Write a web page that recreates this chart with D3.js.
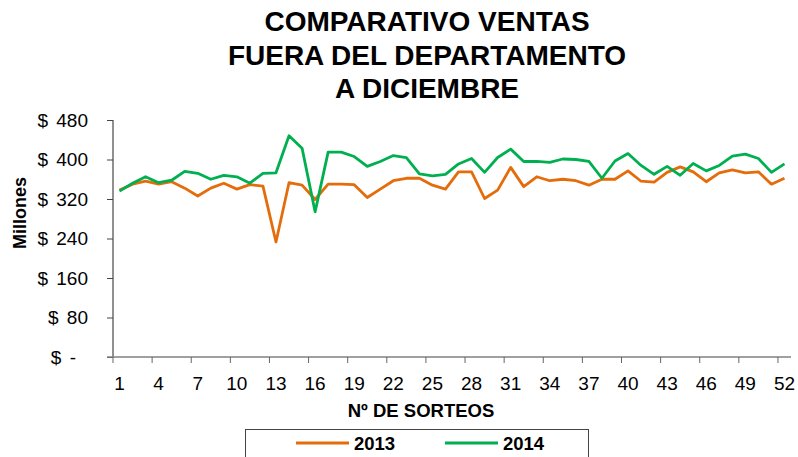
<!DOCTYPE html>
<html>
<head>
<meta charset="utf-8">
<script src="https://cdn.jsdelivr.net/npm/d3@7"></script>
<style>
  body { margin: 0; background: #fff; }
  svg text { font-family: Arial, "Liberation Sans", sans-serif; fill: #000; }
</style>
</head>
<body>
<svg class="chart" width="798" height="457"></svg>
<script>
// data (millones)
var sorteos = d3.range(1, 53);
var ventas2013 = [338, 350, 356, 350, 355, 342, 326, 342, 352, 340, 349, 346, 233, 353, 348, 319, 350, 350,
  349, 323, 340, 357, 362, 362, 348, 340, 375, 375, 321, 338, 384, 345, 365, 357, 360, 357, 348, 360, 360,
  377, 356, 354, 374, 385, 375, 355, 373, 379, 373, 375, 350, 362];
var ventas2014 = [336, 352, 365, 353, 358, 376, 372, 360, 368, 365, 352, 372, 373, 448, 423, 294, 415, 415,
  406, 386, 396, 408, 404, 371, 367, 370, 391, 402, 374, 404, 421, 396, 396, 394, 401, 400, 396, 362, 397,
  412, 388, 370, 386, 368, 392, 377, 388, 407, 411, 402, 374, 391];
var yTicks = [0, 80, 160, 240, 320, 400, 480];
var xTickLabels = [1, 4, 7, 10, 13, 16, 19, 22, 25, 28, 31, 34, 37, 40, 43, 46, 49, 52];
var titleLines = ["COMPARATIVO VENTAS", "FUERA DEL DEPARTAMENTO", "A DICIEMBRE"];
var seriesNames = ["2013", "2014"];
var colors = ["#e46c0a", "#00b050"];

var svg = d3.select(".chart");

var x = d3.scaleBand()
    .domain(sorteos)
    .range([113, 791]);

var y = d3.scaleLinear()
    .domain([0, 480])
    .range([357, 120]);

// title
svg.append("g").selectAll("text")
    .data(titleLines)
  .enter().append("text")
    .attr("x", 427)
    .attr("y", function(d, i) { return 31 + i * 33.5; })
    .attr("text-anchor", "middle")
    .style("font-size", "28px")
    .style("font-weight", "bold")
    .text(function(d) { return d; });

// y axis
var yAxis = svg.append("g")
    .attr("transform", "translate(113,0)")
    .call(d3.axisLeft(y)
      .tickValues(yTicks)
      .tickSize(6)
      .tickPadding(19)
      .tickFormat(function(d) { return d === 0 ? "$ -" : "$ " + d; }));

yAxis.select(".domain").attr("stroke", "#222").attr("d", "M0,120V357");
yAxis.selectAll(".tick line").attr("stroke", "#444");
yAxis.selectAll(".tick text")
    .style("font-size", "19px")
    .style("word-spacing", "3px")
    .attr("fill", "#000")
    .attr("dx", function(d) { return d === 0 ? -12 : 0; });

// x axis, ticks sit on the category boundaries
var xAxis = svg.append("g")
    .attr("transform", "translate(0,357)");

xAxis.append("line")
    .attr("x1", 107)
    .attr("x2", 791)
    .attr("stroke", "#808080")
    .attr("stroke-width", 1.5);

xAxis.selectAll(".xtick")
    .data(xTickLabels)
  .enter().append("line")
    .attr("class", "xtick")
    .attr("x1", function(d) { return x(d); })
    .attr("x2", function(d) { return x(d); })
    .attr("y1", 0)
    .attr("y2", 6)
    .attr("stroke", "#666");

xAxis.selectAll(".xlabel")
    .data(xTickLabels)
  .enter().append("text")
    .attr("class", "xlabel")
    .attr("x", function(d) { return x(d) + x.bandwidth() / 2; })
    .attr("y", 33)
    .attr("text-anchor", "middle")
    .style("font-size", "19px")
    .text(function(d) { return d; });

// axis titles
svg.append("text")
    .attr("x", 421)
    .attr("y", 417)
    .attr("text-anchor", "middle")
    .style("font-size", "18.5px")
    .style("font-weight", "bold")
    .text("Nº DE SORTEOS");

svg.append("text")
    .attr("transform", "translate(26,213) rotate(-90)")
    .attr("text-anchor", "middle")
    .style("font-size", "18px")
    .style("font-weight", "bold")
    .text("Millones");

// series
var line = d3.line()
    .x(function(d, i) { return x(sorteos[i]) + x.bandwidth() / 2; })
    .y(function(d) { return y(d); });

svg.selectAll(".serie")
    .data([ventas2013, ventas2014])
  .enter().append("path")
    .attr("class", "serie")
    .attr("d", line)
    .attr("fill", "none")
    .attr("stroke", function(d, i) { return colors[i]; })
    .attr("stroke-width", 2.8)
    .attr("stroke-linejoin", "round");

// legend
var legend = svg.append("g");

legend.append("rect")
    .attr("x", 245.5)
    .attr("y", 429.5)
    .attr("width", 343)
    .attr("height", 40)
    .attr("fill", "#fff")
    .attr("stroke", "#444");

var item = legend.selectAll(".item")
    .data(seriesNames)
  .enter().append("g")
    .attr("class", "item")
    .attr("transform", function(d, i) { return "translate(" + (296 + i * 149) + ",443)"; });

item.append("line")
    .attr("x1", 0)
    .attr("x2", 53)
    .attr("stroke", function(d, i) { return colors[i]; })
    .attr("stroke-width", 2.8);

item.append("text")
    .attr("x", 58)
    .attr("y", 7)
    .style("font-size", "18.5px")
    .style("font-weight", "bold")
    .text(function(d) { return d; });
</script>
</body>
</html>
